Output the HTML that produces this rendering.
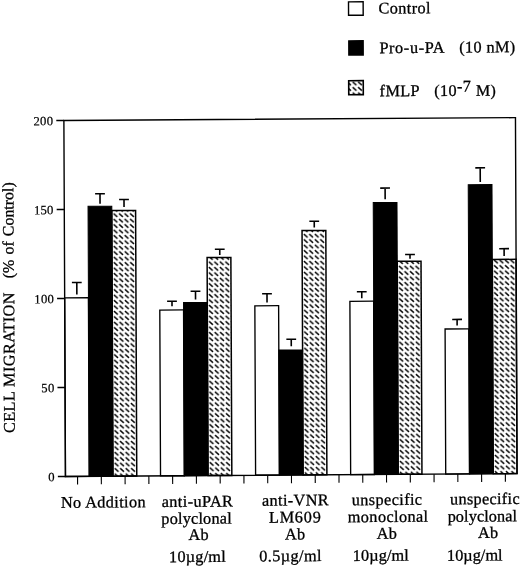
<!DOCTYPE html>
<html><head><meta charset="utf-8"><title>Cell migration</title>
<style>
html,body{margin:0;padding:0;background:#fff}
svg{display:block;filter:blur(0.3px)}
.l{font-family:"Liberation Serif",serif;font-size:16.3px;letter-spacing:0.38px;fill:#000;stroke:#000;stroke-width:0.3px}
.t{font-family:"Liberation Serif",serif;font-size:12.7px;letter-spacing:0.25px;fill:#000;stroke:#000;stroke-width:0.2px}
</style></head><body>
<svg width="520" height="568" viewBox="0 0 520 568">
<defs>
<pattern id="h" width="5.5" height="5.42" patternUnits="userSpaceOnUse" patternTransform="translate(0.9 1.0)">
<path d="M0.85 1.05L4.6 4.35" stroke="#000" stroke-width="1.45" stroke-linecap="butt"/>
</pattern>
</defs>
<rect width="520" height="568" fill="#fff"/>
<g transform="matrix(0.99906,-0.00636,0.004424,0.99993,-0.585,0.925)">
<rect x="64.00" y="297.37" width="23.79" height="178.63" fill="#fff" stroke="#000" stroke-width="1.35"/>
<path d="M71.31 282.08H81.11M76.21 282.08V293.98" stroke="#000" stroke-width="1.6" fill="none"/>
<rect x="87.79" y="205.97" width="23.79" height="270.03" fill="#000" stroke="#000" stroke-width="1.0"/>
<path d="M94.92 193.47H104.72M99.82 193.47V203.47" stroke="#000" stroke-width="1.6" fill="none"/>
<g transform="translate(111.58 0)"><rect x="0" y="210.38" width="23.79" height="265.62" fill="url(#h)" stroke="#000" stroke-width="1.5"/></g>
<path d="M118.92 199.38H128.72M123.82 199.38V206.88" stroke="#000" stroke-width="1.6" fill="none"/>
<rect x="159.16" y="310.19" width="23.79" height="165.81" fill="#fff" stroke="#000" stroke-width="1.35"/>
<path d="M166.51 301.44H176.31M171.41 301.44V306.44" stroke="#000" stroke-width="1.6" fill="none"/>
<rect x="182.95" y="302.84" width="23.79" height="173.16" fill="#000" stroke="#000" stroke-width="1.0"/>
<path d="M190.08 291.59H199.88M194.98 291.59V299.84" stroke="#000" stroke-width="1.6" fill="none"/>
<g transform="translate(206.74 0)"><rect x="0" y="257.99" width="23.79" height="218.01" fill="url(#h)" stroke="#000" stroke-width="1.5"/></g>
<path d="M214.54 249.74H224.34M219.44 249.74V255.49" stroke="#000" stroke-width="1.6" fill="none"/>
<rect x="254.32" y="306.54" width="23.79" height="169.46" fill="#fff" stroke="#000" stroke-width="1.35"/>
<path d="M261.63 294.54H271.43M266.53 294.54V303.29" stroke="#000" stroke-width="1.6" fill="none"/>
<rect x="278.11" y="350.95" width="23.79" height="125.05" fill="#000" stroke="#000" stroke-width="1.0"/>
<path d="M285.70 340.20H295.50M290.60 340.20V347.20" stroke="#000" stroke-width="1.6" fill="none"/>
<g transform="translate(301.89 0)"><rect x="0" y="231.59" width="23.79" height="244.41" fill="url(#h)" stroke="#000" stroke-width="1.5"/></g>
<path d="M309.25 222.34H319.05M314.15 222.34V228.59" stroke="#000" stroke-width="1.6" fill="none"/>
<rect x="349.47" y="302.65" width="23.79" height="173.35" fill="#fff" stroke="#000" stroke-width="1.35"/>
<path d="M356.48 293.14H366.28M361.38 293.14V299.64" stroke="#000" stroke-width="1.6" fill="none"/>
<rect x="373.26" y="204.04" width="23.79" height="271.96" fill="#000" stroke="#000" stroke-width="1.0"/>
<path d="M380.31 189.64H390.11M385.21 189.64V200.84" stroke="#000" stroke-width="1.6" fill="none"/>
<g transform="translate(397.05 0)"><rect x="0" y="262.95" width="23.79" height="213.05" fill="url(#h)" stroke="#000" stroke-width="1.5"/></g>
<path d="M404.94 256.20H414.74M409.84 256.20V260.45" stroke="#000" stroke-width="1.6" fill="none"/>
<rect x="444.63" y="330.90" width="23.79" height="145.10" fill="#fff" stroke="#000" stroke-width="1.35"/>
<path d="M451.79 321.40H461.59M456.69 321.40V327.50" stroke="#000" stroke-width="1.6" fill="none"/>
<rect x="468.42" y="186.74" width="23.79" height="289.26" fill="#000" stroke="#000" stroke-width="1.0"/>
<path d="M475.58 169.94H485.38M480.48 169.94V184.14" stroke="#000" stroke-width="1.6" fill="none"/>
<g transform="translate(492.21 0)"><rect x="0" y="261.70" width="23.79" height="214.30" fill="url(#h)" stroke="#000" stroke-width="1.5"/></g>
<path d="M499.15 251.00H508.95M504.05 251.00V258.30" stroke="#000" stroke-width="1.6" fill="none"/>
<rect x="64" y="120" width="452" height="356" fill="none" stroke="#000" stroke-width="1.4"/>
<path d="M56.40 476.00H64.00" stroke="#000" stroke-width="1.5"/>
<text x="53.40" y="480.70" text-anchor="end" class="t">0</text>
<path d="M56.40 387.00H64.00" stroke="#000" stroke-width="1.5"/>
<text x="53.40" y="391.70" text-anchor="end" class="t">50</text>
<path d="M56.40 298.00H64.00" stroke="#000" stroke-width="1.5"/>
<text x="53.40" y="302.70" text-anchor="end" class="t">100</text>
<path d="M56.40 209.00H64.00" stroke="#000" stroke-width="1.5"/>
<text x="53.40" y="213.70" text-anchor="end" class="t">150</text>
<path d="M56.40 120.00H64.00" stroke="#000" stroke-width="1.5"/>
<text x="53.40" y="124.70" text-anchor="end" class="t">200</text>
<path d="M76.10 476.00V484.10" stroke="#000" stroke-width="1.1"/>
<path d="M99.89 476.00V484.10" stroke="#000" stroke-width="1.1"/>
<path d="M123.68 476.00V484.10" stroke="#000" stroke-width="1.1"/>
<path d="M147.47 476.00V484.10" stroke="#000" stroke-width="1.1"/>
<path d="M171.26 476.00V484.10" stroke="#000" stroke-width="1.1"/>
<path d="M195.05 476.00V484.10" stroke="#000" stroke-width="1.1"/>
<path d="M218.84 476.00V484.10" stroke="#000" stroke-width="1.1"/>
<path d="M242.63 476.00V484.10" stroke="#000" stroke-width="1.1"/>
<path d="M266.42 476.00V484.10" stroke="#000" stroke-width="1.1"/>
<path d="M290.21 476.00V484.10" stroke="#000" stroke-width="1.1"/>
<path d="M313.99 476.00V484.10" stroke="#000" stroke-width="1.1"/>
<path d="M337.78 476.00V484.10" stroke="#000" stroke-width="1.1"/>
<path d="M361.57 476.00V484.10" stroke="#000" stroke-width="1.1"/>
<path d="M385.36 476.00V484.10" stroke="#000" stroke-width="1.1"/>
<path d="M409.15 476.00V484.10" stroke="#000" stroke-width="1.1"/>
<path d="M432.94 476.00V484.10" stroke="#000" stroke-width="1.1"/>
<path d="M456.73 476.00V484.10" stroke="#000" stroke-width="1.1"/>
<path d="M480.52 476.00V484.10" stroke="#000" stroke-width="1.1"/>
<path d="M504.31 476.00V484.10" stroke="#000" stroke-width="1.1"/>
<text x="101.94" y="507.26" text-anchor="middle" class="l">No Addition</text>
<text x="196.03" y="507.11" text-anchor="middle" class="l">anti-uPAR</text>
<text x="195.07" y="524.10" text-anchor="middle" class="l" style="letter-spacing:0.19px">polyclonal</text>
<text x="197.13" y="540.37" text-anchor="middle" class="l">Ab</text>
<text x="195.78" y="562.36" text-anchor="middle" class="l" style="letter-spacing:0.2px">10µg/ml</text>
<text x="294.12" y="506.48" text-anchor="middle" class="l">anti-VNR</text>
<text x="293.80" y="523.48" text-anchor="middle" class="l" style="letter-spacing:0.75px">LM609</text>
<text x="293.72" y="540.48" text-anchor="middle" class="l">Ab</text>
<text x="288.99" y="562.20" text-anchor="middle" class="l">0.5µg/ml</text>
<text x="385.83" y="506.56" text-anchor="middle" class="l">unspecific</text>
<text x="386.76" y="523.57" text-anchor="middle" class="l">monoclonal</text>
<text x="385.56" y="540.31" text-anchor="middle" class="l">Ab</text>
<text x="379.33" y="562.28" text-anchor="middle" class="l" style="letter-spacing:0.1px">10µg/ml</text>
<text x="483.80" y="506.39" text-anchor="middle" class="l" style="letter-spacing:0.3px">unspecific</text>
<text x="481.12" y="523.67" text-anchor="middle" class="l" style="letter-spacing:0.08px">polyclonal</text>
<text x="486.95" y="540.11" text-anchor="middle" class="l">Ab</text>
<text x="473.34" y="562.72" text-anchor="middle" class="l" style="letter-spacing:0.02px">10µg/ml</text>
<text transform="translate(13.44 432.19) rotate(-90)" class="l">CELL MIGRATION</text>
<text transform="translate(13.09 181.47) rotate(-90)" text-anchor="end" class="l" style="letter-spacing:0;font-size:15.9px;word-spacing:1.2px">(% of Control)</text>
<rect x="349.40" y="3.19" width="14.65" height="13.40" fill="#fff" stroke="#000" stroke-width="1.4"/>
<rect x="349.53" y="42.20" width="14.35" height="14.20" fill="#000" stroke="#000" stroke-width="1.4"/>
<g transform="translate(351.44 81.14)"><rect x="-2.19" y="0.86" width="14.55" height="14.00" fill="url(#h)" stroke="#000" stroke-width="1.6"/></g>
<text x="379.47" y="15.09" class="l" >Control</text>
<text x="380.10" y="54.70" class="l" style="letter-spacing:0.62px">Pro-u-PA</text>
<text x="459.98" y="54.60" class="l" >(10 nM)</text>
<text x="380.11" y="97.80" class="l" >fMLP</text>
<text x="434.76" y="97.95" class="l" >(10<tspan dy="-4.4">-7</tspan><tspan dy="4.4" dx="4.6" font-size="16">M)</tspan></text>
</g>
</svg>
</body></html>
